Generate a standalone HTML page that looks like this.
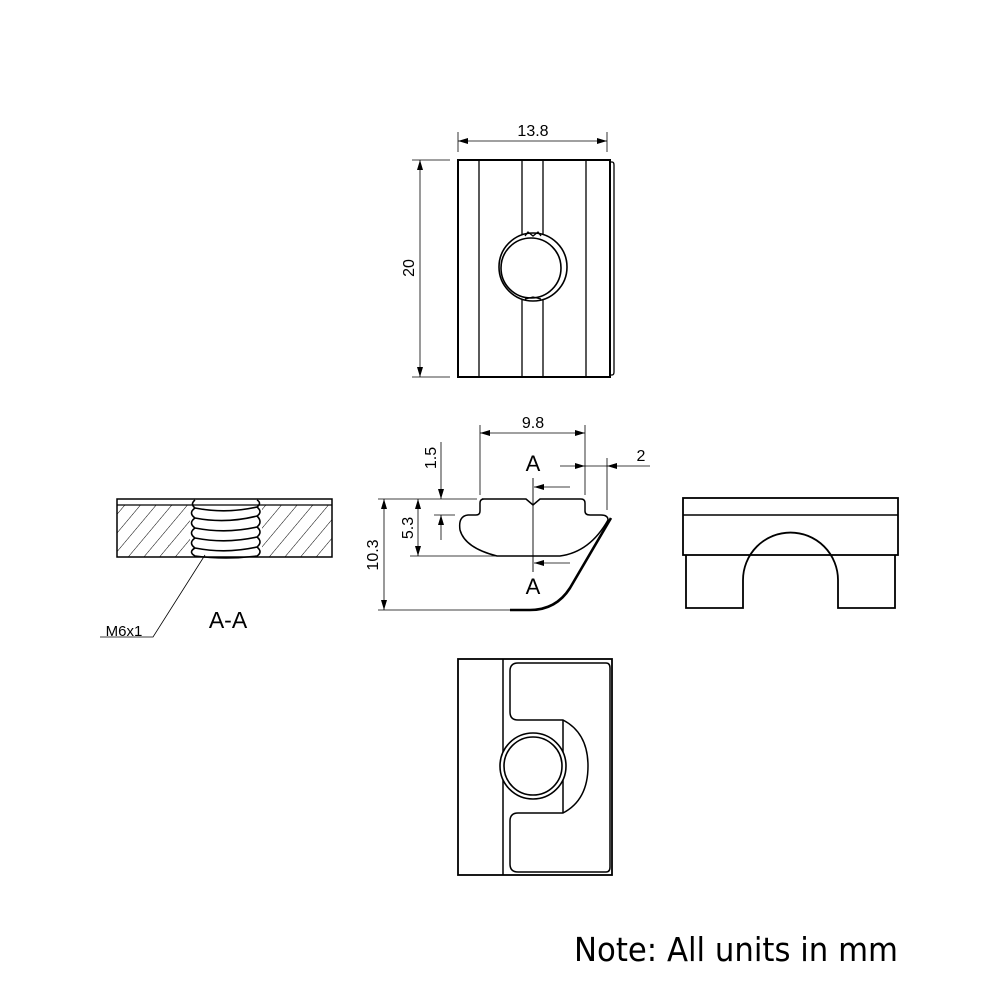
<!DOCTYPE html>
<html><head><style>html,body{margin:0;padding:0;background:#fff}svg{display:block}</style></head>
<body>
<svg width="1000" height="1000" viewBox="0 0 1000 1000" xmlns="http://www.w3.org/2000/svg" font-family="Liberation Sans, sans-serif">
<defs>
<marker id="ar" viewBox="0 0 10 6" refX="10" refY="3" markerWidth="10" markerHeight="6" orient="auto-start-reverse" markerUnits="userSpaceOnUse"><path d="M0,0 L10,3 L0,6 z" fill="#000"/></marker>
<pattern id="hat" patternUnits="userSpaceOnUse" width="12" height="12" patternTransform="rotate(40)"><line x1="0" y1="0" x2="0" y2="12" stroke="#000" stroke-width="1"/></pattern>
</defs>
<g fill="none" stroke="#000" stroke-width="1.3">
<!-- top view -->
<rect x="458" y="160" width="152" height="217" stroke-width="2"/>
<path d="M610,162 h2 q2,0 2,3 v207 q0,3 -2,3 h-2"/>
<line x1="479" y1="160" x2="479" y2="377"/>
<line x1="522" y1="160" x2="522" y2="235"/><line x1="522" y1="299" x2="522" y2="377"/>
<line x1="543" y1="160" x2="543" y2="235"/><line x1="543" y1="299" x2="543" y2="377"/>
<line x1="586" y1="160" x2="586" y2="377"/>
<circle cx="533" cy="267" r="34" fill="#fff" stroke-width="1.6"/>
<circle cx="531" cy="268" r="30" stroke-width="1.6"/>
<path d="M525,236 l3,-4 l5,4 l5,-4 l3,4 M525,299 l8,-2 l8,2"/>
<!-- dim 13.8 -->
<line x1="458" y1="132" x2="458" y2="152" stroke-width="0.8"/><line x1="607" y1="132" x2="607" y2="152" stroke-width="0.8"/>
<line x1="458" y1="141" x2="607" y2="141" stroke-width="0.8" marker-start="url(#ar)" marker-end="url(#ar)"/>
<!-- dim 20 -->
<line x1="412" y1="160" x2="450" y2="160" stroke-width="0.8"/><line x1="412" y1="377" x2="450" y2="377" stroke-width="0.8"/>
<line x1="420" y1="160" x2="420" y2="377" stroke-width="0.8" marker-start="url(#ar)" marker-end="url(#ar)"/>

<!-- profile -->
<path d="M482,499 H526 L533,505 L540,499 H581 Q585,499 585,503 V511 Q585,515 590,515 H601 Q608,515 608,520 Q590,552 560,556 H497 Q465,548 460,530 Q458,516 468,515 H476 Q480,515 480,511 V503 Q480,499 484,499" stroke-width="1.5"/>
<path d="M611,518 L570,588 Q556,610 530,610 H510" stroke-width="2.6"/>
<line x1="533" y1="478" x2="533" y2="572" stroke-width="0.9"/>
<line x1="570" y1="487" x2="534" y2="487" stroke-width="0.8" marker-end="url(#ar)"/>
<line x1="570" y1="563" x2="534" y2="563" stroke-width="0.8" marker-end="url(#ar)"/>
<!-- 9.8 -->
<line x1="480" y1="425" x2="480" y2="495" stroke-width="0.8"/><line x1="585" y1="425" x2="585" y2="495" stroke-width="0.8"/>
<line x1="480" y1="433" x2="585" y2="433" stroke-width="0.8" marker-start="url(#ar)" marker-end="url(#ar)"/>
<!-- 2 -->
<line x1="607" y1="458" x2="607" y2="510" stroke-width="0.8"/>
<line x1="560" y1="466" x2="585" y2="466" stroke-width="0.8" marker-end="url(#ar)"/>
<line x1="650" y1="466" x2="607" y2="466" stroke-width="0.8" marker-end="url(#ar)"/>
<line x1="585" y1="466" x2="607" y2="466" stroke-width="0.8"/>
<!-- 10.3 / 5.3 / 1.5 -->
<line x1="378" y1="499" x2="477" y2="499" stroke-width="0.8"/>
<line x1="378" y1="610" x2="510" y2="610" stroke-width="0.8"/>
<line x1="410" y1="556" x2="497" y2="556" stroke-width="0.8"/>
<line x1="434" y1="515" x2="455" y2="515" stroke-width="0.8"/>
<line x1="384" y1="499" x2="384" y2="610" stroke-width="0.8" marker-start="url(#ar)" marker-end="url(#ar)"/>
<line x1="418" y1="499" x2="418" y2="556" stroke-width="0.8" marker-start="url(#ar)" marker-end="url(#ar)"/>
<line x1="441" y1="442" x2="441" y2="499" stroke-width="0.8" marker-end="url(#ar)"/>
<line x1="441" y1="540" x2="441" y2="515" stroke-width="0.8" marker-end="url(#ar)"/>

<!-- right view -->
<rect x="683" y="498" width="215" height="57" stroke-width="1.8"/>
<line x1="683" y1="515" x2="898" y2="515" stroke-width="1.5"/>
<path d="M686,555 V608 H743 V580 A47,47 0 0 1 838,580 V608 H895 V555" stroke-width="1.8"/>

<!-- section A-A -->
<rect x="117" y="505" width="215" height="52" fill="url(#hat)" stroke="none"/>
<rect x="190" y="500" width="72" height="57" fill="#fff" stroke="none"/>
<rect x="117" y="499" width="215" height="58" stroke-width="1.5"/>
<line x1="117" y1="505" x2="332" y2="505"/>
<g stroke-width="1.6">
<path d="M195,500 Q190,504 195,508 Q226,514 257,507 Q262,503 257,500"/>
<path d="M195,508 Q188,513 195,518 Q226,524 257,516 Q263,512 257,507"/>
<path d="M195,518 Q188,523 195,528 Q226,534 257,527 Q263,522 257,516"/>
<path d="M195,528 Q188,533 195,538 Q226,544 257,537 Q263,532 257,527"/>
<path d="M195,538 Q188,543 195,548 Q226,554 257,547 Q263,542 257,537"/>
<path d="M195,548 Q188,552 195,556 Q226,560 257,556 Q263,552 257,547"/>
</g>
<polyline points="205,555 153,637 100,637" stroke-width="0.8"/>

<!-- bottom view -->
<rect x="458" y="659" width="154" height="216" stroke-width="1.8"/>
<line x1="503" y1="659" x2="503" y2="875" stroke-width="1.5"/>
<path d="M518,663 H606 Q610,663 610,668 V867 Q610,872 606,872 H518 Q510,872 510,864 V821 Q510,813 518,813 H563 Q588,800 588,766 Q588,733 563,720 H518 Q510,720 510,712 V671 Q510,663 518,663 Z" stroke-width="1.5"/>
<line x1="563" y1="720" x2="563" y2="813" stroke-width="1.5"/>
<circle cx="533" cy="766" r="33" fill="#fff" stroke-width="1.6"/>
<circle cx="533" cy="766" r="29" stroke-width="1.6"/>
</g>
<g fill="#000" font-size="16" text-anchor="middle">
<text x="533" y="136">13.8</text>
<text transform="translate(414,268) rotate(-90)">20</text>
<text x="533" y="428">9.8</text>
<text x="641" y="461">2</text>
<text transform="translate(436,458) rotate(-90)">1.5</text>
<text transform="translate(413,528) rotate(-90)">5.3</text>
<text transform="translate(378,555) rotate(-90)">10.3</text>
<text x="533" y="471" font-size="22">A</text>
<text x="533" y="594" font-size="22">A</text>
<text x="124" y="636" font-size="15">M6x1</text>
<text x="228" y="628" font-size="23">A-A</text>
</g>
<text x="574" y="961" font-size="33" font-family="DejaVu Sans, sans-serif" textLength="324" lengthAdjust="spacingAndGlyphs">Note: All units in mm</text>
</svg>
</body></html>
